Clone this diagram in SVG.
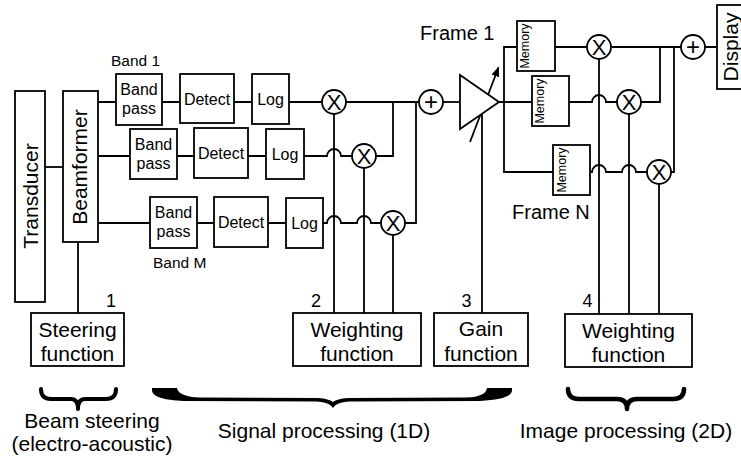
<svg xmlns="http://www.w3.org/2000/svg" width="741" height="457" viewBox="0 0 741 457">
<defs>
<style>
.box{fill:#fff;stroke:#000;stroke-width:1.8}
.w{fill:none;stroke:#000;stroke-width:1.8}
.br{fill:none;stroke:#000;stroke-linecap:round;stroke-linejoin:round}
text{font-family:"Liberation Sans",Arial,Helvetica,sans-serif;fill:#000}
.t21{font-size:21px}
.t20{font-size:20px}
.t18{font-size:18px}
.t16{font-size:16px}
.t15{font-size:15.5px}
.t12{font-size:12.5px}
.x{font-size:22px}
.p{font-size:24px}
.c{text-anchor:middle}
</style>
<marker id="ah" viewBox="0 0 10 8" refX="9" refY="4" markerWidth="10" markerHeight="8" markerUnits="userSpaceOnUse" orient="auto">
<path d="M0,0 L10,4 L0,8 Z" fill="#000"/>
</marker>
</defs>
<rect width="741" height="457" fill="#fff"/>

<g id="connectors">
<path class="w" d="M45,167 H63"/>
<path class="w" d="M78,242 V313"/>
<path class="w" d="M98,102 H116 M162,102 H180 M234,102 H252 M289,102 H322"/>
<path class="w" d="M98,156 H130 M177,156 H194 M248,156 H266 M304,156 H327 A7,7 0 0 1 341,156 H352"/>
<path class="w" d="M98,223 H150 M197,223 H214 M268,223 H286 M323,223 H327 A7,7 0 0 1 341,223 H357 A7,7 0 0 1 371,223 H381"/>
<path class="w" d="M346,102 H419"/>
<path class="w" d="M376,156 H393 V102"/>
<path class="w" d="M405,223 H416 V102"/>
<path class="w" d="M443,102 H460"/>
<path class="w" d="M334,114 V313 M364,168 V313 M393,235 V313"/>
<path class="w" d="M482,114 V313"/>
<path class="w" d="M499,102 H532 M517,47 H504 V172 H553"/>
<path class="w" d="M555,47 H587 M611,47 H681 M705,47 H717"/>
<path class="w" d="M569,102 H592 A7,7 0 0 1 606,102 H617 M641,102 H660 V47"/>
<path class="w" d="M590,172 H592 A7,7 0 0 1 606,172 H622 A7,7 0 0 1 636,172 H647 M671,172 H674 V47"/>
<path class="w" d="M599,59 V314 M629,114 V314 M659,184 V314"/>
<path class="w" d="M470,142 L498.5,67.5" marker-end="url(#ah)"/>
</g>

<g id="transducer"><rect class="box" x="15" y="91" width="30" height="211"/><text class="t21 c" transform="translate(37.5,196) rotate(-90)">Transducer</text></g>
<g id="beamformer"><rect class="box" x="63" y="91" width="35" height="151"/><text class="t21 c" transform="translate(87,167) rotate(-90)">Beamformer</text></g>

<g id="band1-label"><text class="t15" x="111" y="66">Band 1</text></g>
<g id="bandM-label"><text class="t15" x="153" y="268">Band M</text></g>

<g id="bandpass1"><rect class="box" x="116" y="74" width="46" height="51"/><text class="t16 c" x="139" y="95">Band</text><text class="t16 c" x="139" y="114">pass</text></g>
<g id="detect1"><rect class="box" x="180" y="74" width="54" height="49"/><text class="t16 c" x="207" y="105">Detect</text></g>
<g id="log1"><rect class="box" x="252" y="74" width="37" height="50"/><text class="t16 c" x="270.5" y="105">Log</text></g>

<g id="bandpass2"><rect class="box" x="130" y="129" width="47" height="50"/><text class="t16 c" x="153.5" y="150">Band</text><text class="t16 c" x="153.5" y="169">pass</text></g>
<g id="detect2"><rect class="box" x="194" y="128" width="54" height="50"/><text class="t16 c" x="221" y="159">Detect</text></g>
<g id="log2"><rect class="box" x="266" y="129" width="38" height="50"/><text class="t16 c" x="285" y="160">Log</text></g>

<g id="bandpass3"><rect class="box" x="150" y="197" width="47" height="51"/><text class="t16 c" x="173.5" y="218">Band</text><text class="t16 c" x="173.5" y="237">pass</text></g>
<g id="detect3"><rect class="box" x="214" y="197" width="54" height="50"/><text class="t16 c" x="241" y="228">Detect</text></g>
<g id="log3"><rect class="box" x="286" y="198" width="37" height="50"/><text class="t16 c" x="304.5" y="229">Log</text></g>

<g id="mult1"><circle class="box" cx="334" cy="102" r="12"/><text class="x c" x="334" y="109.9">X</text></g>
<g id="mult2"><circle class="box" cx="364" cy="156" r="12"/><text class="x c" x="364" y="163.9">X</text></g>
<g id="mult3"><circle class="box" cx="393" cy="223" r="12"/><text class="x c" x="393" y="230.9">X</text></g>
<g id="sum1"><circle class="box" cx="431" cy="102" r="12"/><text class="p c" x="431" y="110.4">+</text></g>

<g id="amplifier"><polygon class="box" points="460,75 460,129 499,102"/></g>
<g id="frame1-label"><text class="t20" x="420" y="40">Frame 1</text></g>
<g id="frameN-label"><text class="t20" x="512" y="219">Frame N</text></g>

<g id="memory1"><rect class="box" x="517" y="21" width="38" height="50"/><text class="t12 c" transform="translate(529,46) rotate(-90)">Memory</text></g>
<g id="memory2"><rect class="box" x="532" y="76" width="37" height="50"/><text class="t12 c" transform="translate(544,101) rotate(-90)">Memory</text></g>
<g id="memory3"><rect class="box" x="553" y="145" width="37" height="50"/><text class="t12 c" transform="translate(566,170) rotate(-90)">Memory</text></g>

<g id="mult4"><circle class="box" cx="599" cy="47" r="12"/><text class="x c" x="599" y="54.9">X</text></g>
<g id="mult5"><circle class="box" cx="629" cy="102" r="12"/><text class="x c" x="629" y="109.9">X</text></g>
<g id="mult6"><circle class="box" cx="659" cy="172" r="12"/><text class="x c" x="659" y="179.9">X</text></g>
<g id="sum2"><circle class="box" cx="693" cy="47" r="12"/><text class="p c" x="693" y="55.4">+</text></g>

<g id="display"><rect class="box" x="717" y="5" width="30" height="84"/><text class="t21 c" transform="translate(738,47) rotate(-90)">Display</text></g>

<g id="steering"><rect class="box" x="31" y="313" width="93" height="53"/><text class="t21 c" x="77.5" y="337">Steering</text><text class="t21 c" x="77.5" y="361">function</text></g>
<g id="weighting1"><rect class="box" x="293" y="313" width="128" height="53"/><text class="t21 c" x="357" y="337">Weighting</text><text class="t21 c" x="357" y="361">function</text></g>
<g id="gain"><rect class="box" x="434" y="313" width="94" height="53"/><text class="t21 c" x="481" y="336">Gain</text><text class="t21 c" x="481" y="361">function</text></g>
<g id="weighting2"><rect class="box" x="565" y="314" width="127" height="53"/><text class="t21 c" x="628.5" y="338">Weighting</text><text class="t21 c" x="628.5" y="362">function</text></g>

<g id="num-labels">
<text class="t18 c" x="111" y="307">1</text>
<text class="t18 c" x="316" y="307">2</text>
<text class="t18 c" x="466.5" y="307">3</text>
<text class="t18 c" x="587.5" y="307">4</text>
</g>

<g id="beam-steering">
<path class="br" stroke-width="4" d="M41,389 Q41,399 51,399 L71,399 Q78,399 78,409 Q78,399 85,399 L106,399 Q116,399 116,389"/>
<text class="t21 c" x="92" y="428">Beam steering</text>
<text class="t21 c" x="92" y="451">(electro-acoustic)</text>
</g>
<g id="signal-processing">
<path fill="#000" d="M152,388 L177,388 C178,394 186,397 200,397.5 L318,398 C326,398.5 330,400 333,402 C336,400 340,398.5 348,398 L466,397.5 C480,397 486,394 487,388 L512,388 L512,390 C512,397 500,400 480,401 L350,401.5 C340,402 336,404 333,408 C330,404 326,402 316,401.5 L184,401 C164,400 152,397 152,390 Z"/>
<text class="t21 c" x="324" y="438">Signal processing (1D)</text>
</g>
<g id="image-processing">
<path class="br" stroke-width="4.5" d="M568,389 Q568,399 579,399 L617,399 Q627,399 627,409 Q627,399 637,399 L673,399 Q684,399 684,389"/>
<text class="t21 c" x="626" y="438">Image processing (2D)</text>
</g>
</svg>
